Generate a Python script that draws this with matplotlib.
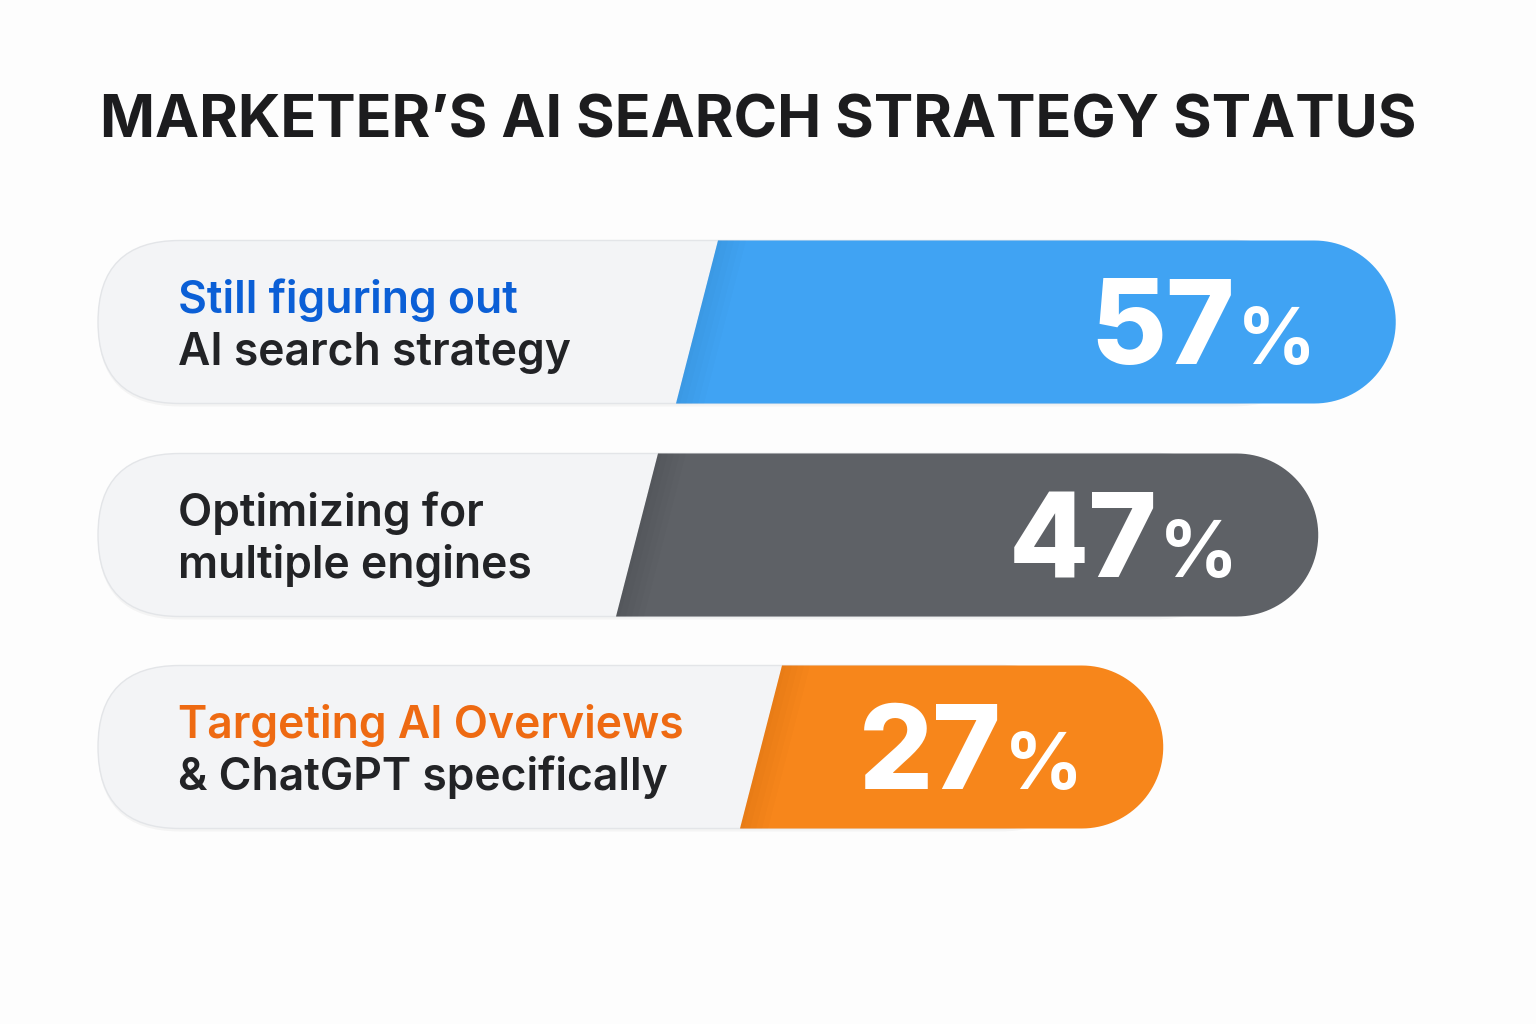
"""
Marketer's AI search strategy status, drawn as three rounded pill bars.
"""

import numpy as np
import matplotlib.pyplot as plt
from matplotlib.patches import FancyBboxPatch, Polygon

plt.rcParams['font.family'] = ['Inter', 'DejaVu Sans']

title = 'MARKETER\u2019S AI SEARCH STRATEGY STATUS'
head_lines = ['Still figuring out', 'Optimizing for', 'Targeting AI Overviews']
tail_lines = ['AI search strategy', 'multiple engines', '& ChatGPT specifically']
values = [57, 47, 27]

bar_colors = ['#40a3f3', '#5e6166', '#f7861b']
head_colors = ['#0b5fd6', '#222326', '#ee6a12']
tail_color = '#222326'

# layout, in pixels of the 1536x1024 canvas
row_y = [322, 535, 747]
row_h = 163
pill_x0 = 98
split_x = [697, 637, 761]   # middle of the slanted edge
slant = 21
x_base, x_per_pct = 954, 7.75   # bar end = x_base + value * x_per_pct

fig = plt.figure(figsize=(15.36, 10.24), dpi=100)
fig.patch.set_facecolor('#fdfdfd')
ax = fig.add_axes([0, 0, 1, 1])
ax.set_xlim(0, 1536)
ax.set_ylim(1024, 0)
ax.axis('off')
renderer = fig.canvas.get_renderer()

ax.text(100, 137, title, fontsize=42.5, fontweight='bold', color='#1c1c1e',
        ha='left', va='baseline')

r = row_h / 2
for i, v in enumerate(values):
    yc = row_y[i]
    top, bot = yc - r, yc + r
    end = x_base + v * x_per_pct

    # soft shadow and grey track (its right end hides under the coloured part)
    track_w = end - r - pill_x0
    ax.add_patch(FancyBboxPatch((pill_x0, top + 3), track_w, row_h,
                                boxstyle=f'round,pad=0,rounding_size={r}',
                                fc='#000000', ec='none', alpha=0.035, zorder=1))
    ax.add_patch(FancyBboxPatch((pill_x0, top), track_w, row_h,
                                boxstyle=f'round,pad=0,rounding_size={r}',
                                fc='#f3f4f6', ec='#e3e5e8', lw=1, zorder=2))

    # coloured part: slanted left edge, round right end
    ang = np.linspace(-np.pi / 2, np.pi / 2, 60)
    arc = np.column_stack([end - r + r * np.cos(ang), yc + r * np.sin(ang)])
    pts = np.vstack([[split_x[i] + slant, top], arc, [split_x[i] - slant, bot]])
    ax.add_patch(Polygon(pts, closed=True, fc=bar_colors[i], ec='none', zorder=3))

    # slight darkening along the slanted edge
    for k in range(5):
        w = 4 + k * 6
        band = [[split_x[i] + slant, top], [split_x[i] + slant + w, top],
                [split_x[i] - slant + w, bot], [split_x[i] - slant, bot]]
        ax.add_patch(Polygon(band, closed=True, fc='#000000', ec='none',
                             alpha=0.012, zorder=4))

    # labels
    ax.text(178, yc - 9, head_lines[i], fontsize=32, fontweight='semibold',
            color=head_colors[i], ha='left', va='baseline', zorder=5)
    ax.text(178, yc + 43, tail_lines[i], fontsize=32, fontweight='semibold',
            color=tail_color, ha='left', va='baseline', zorder=5)

    # percentage, right aligned inside the bar, number just left of the sign
    pct = ax.text(end - 80, yc + 42, '%', fontsize=56, fontweight='bold',
                  color='white', ha='right', va='baseline', zorder=5)
    bb = pct.get_window_extent(renderer)
    x_sign = ax.transData.inverted().transform((bb.x0, bb.y0))[0]
    ax.text(x_sign - 2, yc + 42, f'{v}', fontsize=84, fontweight='heavy',
            color='white', ha='right', va='baseline', zorder=5)

fig.savefig('out.png', dpi=100, facecolor=fig.get_facecolor())
